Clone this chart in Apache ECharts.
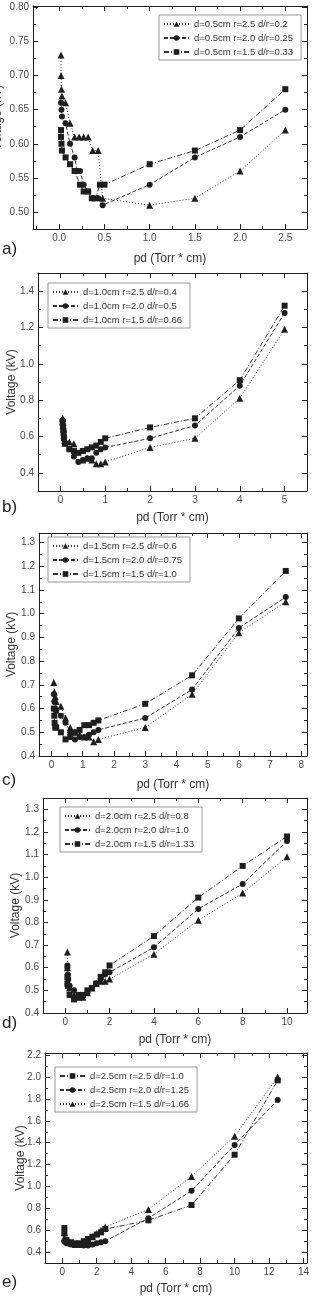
<!DOCTYPE html>
<html>
<head>
<meta charset="utf-8">
<script src="https://cdn.jsdelivr.net/npm/echarts@6/dist/echarts.min.js"></script>
<style>
  html, body { margin: 0; padding: 0; background: #fff; }
  #chart { width: 323px; height: 1296px; }
</style>
</head>
<body>
<div id="chart"></div>
<script>
// a) d=0.5cm
const aNames = ['d=0.5cm r=2.5 d/r=0.2', 'd=0.5cm r=2.0 d/r=0.25', 'd=0.5cm r=1.5 d/r=0.33'];
const aTriX = [0.02, 0.02, 0.025, 0.03, 0.07, 0.12, 0.17, 0.22, 0.27, 0.32, 0.37, 0.43, 0.48, 1.0, 1.5, 2.0, 2.5];
const aTriY = [0.73, 0.70, 0.68, 0.67, 0.66, 0.63, 0.61, 0.61, 0.61, 0.61, 0.59, 0.59, 0.52, 0.51, 0.52, 0.56, 0.62];
const aCirX = [0.02, 0.025, 0.03, 0.07, 0.12, 0.17, 0.2, 0.23, 0.27, 0.32, 0.37, 0.43, 0.48, 1.0, 1.5, 2.0, 2.5];
const aCirY = [0.66, 0.65, 0.64, 0.63, 0.60, 0.58, 0.56, 0.56, 0.54, 0.53, 0.52, 0.52, 0.51, 0.54, 0.58, 0.61, 0.65];
const aSqX = [0.02, 0.02, 0.025, 0.03, 0.07, 0.12, 0.17, 0.23, 0.27, 0.32, 0.36, 0.4, 0.45, 0.5, 1.0, 1.5, 2.0, 2.5];
const aSqY = [0.62, 0.61, 0.60, 0.59, 0.58, 0.57, 0.56, 0.54, 0.53, 0.53, 0.52, 0.52, 0.54, 0.54, 0.57, 0.59, 0.62, 0.68];
const aXTicks = [0, 0.5, 1.0, 1.5, 2.0, 2.5];
const aYTicks = [0.50, 0.55, 0.60, 0.65, 0.70, 0.75, 0.80];

// b) d=1.0cm
const bNames = ['d=1.0cm r=2.5 d/r=0.4', 'd=1.0cm r=2.0 d/r=0.5', 'd=1.0cm r=1.5 d/r=0.66'];
const bTriX = [0.05, 0.05, 0.06, 0.07, 0.08, 0.1, 0.2, 0.3, 0.5, 0.6, 0.7, 0.8, 0.9, 1, 2, 3, 4, 5];
const bTriY = [0.70, 0.68, 0.66, 0.64, 0.61, 0.58, 0.57, 0.56, 0.47, 0.48, 0.47, 0.45, 0.45, 0.46, 0.54, 0.59, 0.81, 1.19];
const bCirX = [0.05, 0.06, 0.07, 0.08, 0.1, 0.2, 0.3, 0.4, 0.5, 0.6, 0.7, 0.8, 0.9, 1, 2, 3, 4, 5];
const bCirY = [0.69, 0.66, 0.63, 0.60, 0.56, 0.53, 0.49, 0.46, 0.47, 0.48, 0.48, 0.51, 0.53, 0.54, 0.59, 0.66, 0.88, 1.28];
const bSqX = [0.05, 0.06, 0.07, 0.08, 0.1, 0.2, 0.3, 0.4, 0.5, 0.6, 0.7, 0.8, 0.9, 1, 2, 3, 4, 5];
const bSqY = [0.68, 0.65, 0.62, 0.59, 0.56, 0.53, 0.52, 0.51, 0.52, 0.53, 0.54, 0.55, 0.57, 0.59, 0.65, 0.70, 0.91, 1.32];
const bXTicks = [0, 1, 2, 3, 4, 5];
const bYTicks = [0.4, 0.6, 0.8, 1.0, 1.2, 1.4];

// c) d=1.5cm
const cNames = ['d=1.5cm r=2.5 d/r=0.6', 'd=1.5cm r=2.0 d/r=0.75', 'd=1.5cm r=1.5 d/r=1.0'];
const cTriX = [0.075, 0.09, 0.12, 0.15, 0.3, 0.45, 0.6, 0.75, 0.9, 1.05, 1.2, 1.35, 1.5, 3, 4.5, 6, 7.5];
const cTriY = [0.71, 0.67, 0.65, 0.63, 0.61, 0.56, 0.52, 0.50, 0.49, 0.48, 0.48, 0.46, 0.47, 0.52, 0.66, 0.92, 1.05];
const cCirX = [0.075, 0.09, 0.12, 0.15, 0.3, 0.45, 0.6, 0.75, 0.9, 1.05, 1.2, 1.35, 1.5, 3, 4.5, 6, 7.5];
const cCirY = [0.66, 0.63, 0.60, 0.59, 0.57, 0.54, 0.50, 0.47, 0.48, 0.48, 0.49, 0.50, 0.51, 0.56, 0.68, 0.94, 1.07];
const cSqX = [0.075, 0.09, 0.1, 0.12, 0.15, 0.3, 0.45, 0.6, 0.75, 0.9, 1.05, 1.2, 1.35, 1.5, 3, 4.5, 6, 7.5];
const cSqY = [0.60, 0.57, 0.54, 0.52, 0.52, 0.50, 0.47, 0.48, 0.50, 0.51, 0.53, 0.53, 0.54, 0.55, 0.62, 0.74, 0.98, 1.18];
const cXTicks = [0, 1, 2, 3, 4, 5, 6, 7, 8];
const cYTicks = [0.4, 0.5, 0.6, 0.7, 0.8, 0.9, 1.0, 1.1, 1.2, 1.3];

// d) d=2.0cm
const dNames = ['d=2.0cm r=2.5 d/r=0.8', 'd=2.0cm r=2.0 d/r=1.0', 'd=2.0cm r=1.5 d/r=1.33'];
const dTriX = [0.1, 0.1, 0.12, 0.14, 0.2, 0.4, 0.6, 0.8, 1.0, 1.2, 1.4, 1.6, 1.8, 2.0, 4, 6, 8, 10];
const dTriY = [0.67, 0.60, 0.56, 0.53, 0.51, 0.48, 0.47, 0.47, 0.49, 0.51, 0.53, 0.54, 0.54, 0.55, 0.66, 0.81, 0.93, 1.09];
const dCirX = [0.1, 0.1, 0.12, 0.14, 0.2, 0.4, 0.6, 0.8, 1.0, 1.2, 1.4, 1.6, 1.8, 2.0, 4, 6, 8, 10];
const dCirY = [0.61, 0.60, 0.57, 0.55, 0.52, 0.50, 0.47, 0.48, 0.49, 0.51, 0.53, 0.55, 0.57, 0.58, 0.69, 0.86, 0.97, 1.16];
const dSqX = [0.1, 0.1, 0.12, 0.2, 0.4, 0.6, 0.8, 1.0, 1.2, 1.4, 1.6, 1.8, 2.0, 4, 6, 8, 10];
const dSqY = [0.56, 0.53, 0.52, 0.48, 0.46, 0.48, 0.48, 0.50, 0.51, 0.53, 0.56, 0.58, 0.61, 0.74, 0.91, 1.05, 1.18];
const dXTicks = [0, 2, 4, 6, 8, 10];
const dYTicks = [0.4, 0.5, 0.6, 0.7, 0.8, 0.9, 1.0, 1.1, 1.2, 1.3];

// e) d=2.5cm
const eNames = ['d=2.5cm r=2.5 d/r=1.0', 'd=2.5cm r=2.0 d/r=1.25', 'd=2.5cm r=1.5 d/r=1.66'];
const eSqX = [0.125, 0.125, 0.25, 0.5, 0.75, 1.0, 1.25, 1.5, 1.75, 2.0, 2.25, 2.5, 5, 7.5, 10, 12.5];
const eSqY = [0.62, 0.57, 0.51, 0.49, 0.48, 0.48, 0.50, 0.52, 0.54, 0.56, 0.58, 0.61, 0.69, 0.83, 1.29, 1.97];
const eCirX = [0.125, 0.25, 0.5, 0.75, 1.0, 1.25, 1.5, 1.75, 2.0, 2.25, 2.5, 5, 7.5, 10, 12.5];
const eCirY = [0.50, 0.48, 0.47, 0.47, 0.47, 0.46, 0.46, 0.47, 0.48, 0.49, 0.50, 0.71, 0.96, 1.38, 1.79];
const eTriX = [0.125, 0.125, 0.25, 0.5, 0.75, 1.0, 1.25, 1.5, 1.75, 2.0, 2.25, 2.5, 5, 7.5, 10, 12.5];
const eTriY = [0.58, 0.53, 0.50, 0.48, 0.47, 0.47, 0.48, 0.51, 0.54, 0.57, 0.60, 0.63, 0.79, 1.09, 1.46, 2.00];
const eXTicks = [0, 2, 4, 6, 8, 10, 12, 14];
const eYTicks = [0.4, 0.6, 0.8, 1.0, 1.2, 1.4, 1.6, 1.8, 2.0, 2.2];

const FONT = 'Liberation Sans, Arial, sans-serif';
const INK = '#1e1e1e';
const TXT = '#4a4a4a';
const SYM = { tri: 'triangle', cir: 'circle', sq: 'rect' };
const SIZE = { tri: 7, cir: 6, sq: 6 };
const DASH = { tri: [1, 2], cir: [4, 2], sq: [5, 2, 1, 2] };

const panels = [
  { grid: [33, 6, 274, 223], x: [-0.29, 2.74], y: [0.475, 0.802], xTicks: aXTicks, yTicks: aYTicks,
    xDec: 1, yDec: 2, xGap: 24, yGap: 29, legend: [159, 15], tag: 'a)', tagTop: 241,
    lines: [[aNames[0], aTriX, aTriY, 'tri'], [aNames[1], aCirX, aCirY, 'cir'], [aNames[2], aSqX, aSqY, 'sq']] },
  { grid: [38, 273, 269, 218], x: [-0.5, 5.5], y: [0.3, 1.5], xTicks: bXTicks, yTicks: bYTicks,
    xDec: 0, yDec: 1, xGap: 21, yGap: 20, legend: [48, 283], tag: 'b)', tagTop: 499,
    lines: [[bNames[0], bTriX, bTriY, 'tri'], [bNames[1], bCirX, bCirY, 'cir'], [bNames[2], bSqX, bSqY, 'sq']] },
  { grid: [39, 533, 268, 223], x: [-0.4, 8.18], y: [0.4, 1.34], xTicks: cXTicks, yTicks: cYTicks,
    xDec: 0, yDec: 1, xGap: 23, yGap: 21, legend: [48, 537], tag: 'c)', tagTop: 772,
    lines: [[cNames[0], cTriX, cTriY, 'tri'], [cNames[1], cCirX, cCirY, 'cir'], [cNames[2], cSqX, cSqY, 'sq']] },
  { grid: [43, 798, 264, 215], x: [-1, 10.9], y: [0.4, 1.35], xTicks: dXTicks, yTicks: dYTicks,
    xDec: 0, yDec: 1, xGap: 21, yGap: 21, legend: [60, 807], tag: 'd)', tagTop: 1015,
    lines: [[dNames[0], dTriX, dTriY, 'tri'], [dNames[1], dCirX, dCirY, 'cir'], [dNames[2], dSqX, dSqY, 'sq']] },
  { grid: [45, 1053, 262, 210], x: [-1, 14.2], y: [0.3, 2.22], xTicks: eXTicks, yTicks: eYTicks,
    xDec: 0, yDec: 1, xGap: 20, yGap: 18, legend: [55, 1067], tag: 'e)', tagTop: 1274,
    lines: [[eNames[0], eSqX, eSqY, 'sq'], [eNames[1], eCirX, eCirY, 'cir'], [eNames[2], eTriX, eTriY, 'tri']] }
];

// half-way ticks between the labelled ones
function minors(t) {
  const step = t[1] - t[0];
  const out = [t[0] - step / 2];
  t.forEach(v => out.push(+(v + step / 2).toFixed(4)));
  return out;
}

function axis(gi, pos, ext, ticks, len, extra) {
  return Object.assign({
    gridIndex: gi, type: 'value', position: pos, min: ext[0], max: ext[1],
    axisLine: { show: false, onZero: false },
    splitLine: { show: false },
    axisLabel: { show: false },
    axisTick: { show: true, inside: true, length: len, customValues: ticks, lineStyle: { color: INK, width: 1 } }
  }, extra || {});
}

const frame = { axisLine: { show: true, onZero: false, lineStyle: { color: INK, width: 1 } } };

const option = { animation: false, grid: [], xAxis: [], yAxis: [], legend: [], series: [], graphic: [] };

panels.forEach((p, i) => {
  option.grid.push({ left: p.grid[0], top: p.grid[1], width: p.grid[2], height: p.grid[3], outerBoundsMode: 'none' });

  option.xAxis.push(axis(i, 'bottom', p.x, p.xTicks, 5, {
    axisLine: frame.axisLine,
    axisLabel: { show: true, customValues: p.xTicks, formatter: v => v.toFixed(p.xDec), fontSize: 10, color: TXT, margin: 4, fontFamily: FONT },
    name: 'pd (Torr * cm)', nameLocation: 'middle', nameGap: p.xGap, nameMoveOverlap: false,
    nameTextStyle: { fontSize: 12, color: '#333', fontFamily: FONT }
  }));
  option.xAxis.push(axis(i, 'bottom', p.x, minors(p.xTicks), 3));
  option.xAxis.push(axis(i, 'top', p.x, p.xTicks, 5, frame));
  option.xAxis.push(axis(i, 'top', p.x, minors(p.xTicks), 3));

  option.yAxis.push(axis(i, 'left', p.y, p.yTicks, 5, {
    axisLine: frame.axisLine,
    axisLabel: { show: true, customValues: p.yTicks, formatter: v => v.toFixed(p.yDec), fontSize: 10, color: TXT, margin: 4, fontFamily: FONT },
    name: 'Voltage (kV)', nameLocation: 'middle', nameGap: p.yGap, nameMoveOverlap: false,
    nameTextStyle: { fontSize: 12, color: '#333', fontFamily: FONT }
  }));
  option.yAxis.push(axis(i, 'left', p.y, minors(p.yTicks), 3));
  option.yAxis.push(axis(i, 'right', p.y, p.yTicks, 5, frame));
  option.yAxis.push(axis(i, 'right', p.y, minors(p.yTicks), 3));

  option.legend.push({
    orient: 'vertical', left: p.legend[0], top: p.legend[1],
    data: p.lines.map(l => l[0]),
    itemWidth: 25, itemHeight: 7, itemGap: 4,
    padding: [4, 8, 3, 4],
    borderColor: '#999', borderWidth: 1, backgroundColor: '#fff',
    selectedMode: false,
    textStyle: { fontSize: 9.5, color: '#333', fontFamily: FONT }
  });

  p.lines.forEach(([name, xs, ys, kind]) => {
    option.series.push({
      name, type: 'line', xAxisIndex: i * 4, yAxisIndex: i * 4,
      data: xs.map((x, k) => [x, ys[k]]),
      symbol: SYM[kind], symbolSize: SIZE[kind],
      lineStyle: { color: '#333', width: 1, type: DASH[kind] },
      itemStyle: { color: INK },
      emphasis: { disabled: true }
    });
  });

  option.graphic.push({
    type: 'text', left: 2, top: p.tagTop,
    style: { text: p.tag, fontSize: 17, fill: '#222', fontFamily: FONT }
  });
});

const myChart = echarts.init(document.getElementById('chart'));
myChart.setOption(option);
</script>
</body>
</html>
